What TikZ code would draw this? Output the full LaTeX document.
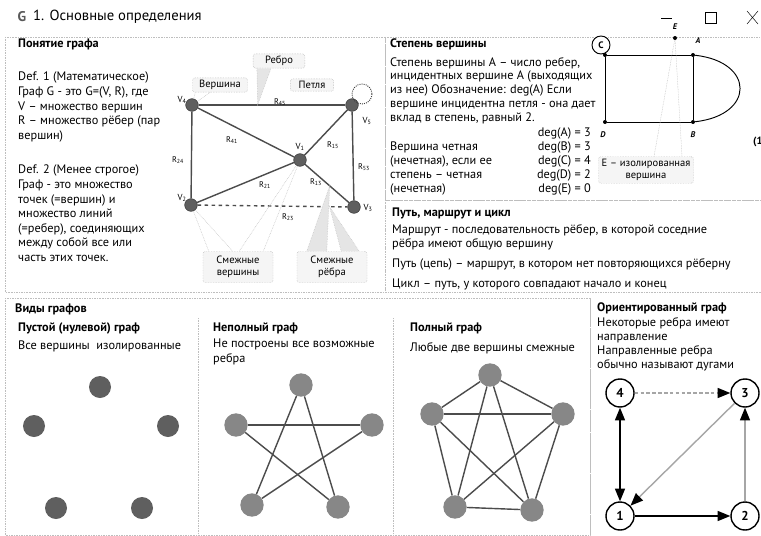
\documentclass[tikz,border=0pt]{standalone}
\usepackage{fontspec}
\setmainfont{PT Sans}
\usepackage{tikz}
\usetikzlibrary{arrows.meta, calc, positioning}
\definecolor{vtxgray}{RGB}{95,95,95}
\definecolor{vtxlight}{RGB}{135,135,135}
\definecolor{framegray}{RGB}{190,190,190}

\begin{document}
\begin{tikzpicture}[x=0.03cm, y=-0.03cm,
    txt/.style={anchor=base west, inner sep=0pt, align=left,
      font=\fontsize{10.5}{12.4}\selectfont},
    block/.style={txt, anchor=north west},
    hdr/.style={anchor=base west, inner sep=0pt,
      font=\fontsize{10.5}{12}\selectfont\bfseries},
    frame/.style={framegray, densely dotted},
    callout/.style={draw=gray!70, densely dotted, fill=gray!8, rounded corners=2pt,
      align=center, inner sep=2pt, font=\fontsize{9}{10.5}\selectfont},
    wedge/.style={fill=gray!20, draw=gray!55, densely dotted},
    vtx/.style={circle, fill=vtxgray, draw=gray!40!black, minimum size=0.38cm, inner sep=0pt},
    vlab/.style={inner sep=1pt, font=\fontsize{7.5}{8}\selectfont},
    elab/.style={inner sep=1pt, font=\fontsize{7}{8}\selectfont},
    edge/.style={very thick, gray!60!black},
    dot/.style={circle, fill=black, minimum size=0.12cm, inner sep=0pt},
    ball/.style={circle, fill=vtxgray, minimum size=0.66cm, inner sep=0pt},
    lball/.style={circle, fill=vtxlight, minimum size=0.7cm, inner sep=0pt},
    dnode/.style={circle, draw, very thick, fill=white, minimum size=0.84cm, inner sep=0pt,
      font=\fontsize{11}{12}\selectfont\bfseries},
    arc/.style={-{Triangle[length=0.38cm, width=0.3cm, color=black]}, very thick}
  ]
  \useasboundingbox[fill=white] (0,0) rectangle (761,535);

  % title bar
  \node[font=\fontsize{12}{12}\selectfont\bfseries, text=gray!70!black] (icon) at (22,17) {G};
  \node[txt, font=\fontsize{12.5}{14}\selectfont] (title) at (33,21) {1. Основные определения};
  \draw[thick] (661,18) -- (672,18);
  \draw (705,12) rectangle (716,23);
  \draw (747,11) -- (758,24) (758,11) -- (747,24);

  % frames
  \draw[frame] (5,37) rectangle (385,292);
  \draw[frame] (385,37) rectangle (761,200);
  \draw[frame] (385,200) rectangle (761,292);
  \draw[frame] (5,298) rectangle (590,535);
  \draw[frame] (590,298) -- (590,535);
  \draw[frame] (198,318) -- (198,535);
  \draw[frame] (393,318) -- (393,535);

  % Понятие графа
  \node[hdr] (hgraph) at (18,48) {Понятие графа};
  \node[block] (def1) at (18,72) {Def. 1 (Математическое)\\Граф G - это G=(V, R), где\\V – множество вершин\\R – множество рёбер (пар\\вершин)};
  \node[block] (def2) at (18,165) {Def. 2 (Менее строгое)\\Граф - это множество\\точек (=вершин) и\\множество линий\\(=ребер), соединяющих\\между собой все или\\часть этих точек.};

  \node[vtx] (v4) at (192,105) {};
  \node[vtx] (v5) at (352,105) {};
  \node[vtx] (v1) at (300,160) {};
  \node[vtx] (v2) at (191,205) {};
  \node[vtx] (v3) at (354,207) {};
  \draw[edge] (v4) -- (v5);
  \draw[edge] (v4) -- (v1);
  \draw[edge] (v1) -- (v5);
  \draw[edge] (v5) -- (v3);
  \draw[edge] (v4) -- (v2);
  \draw[edge] (v2) -- (v1);
  \draw[edge] (v1) -- (v3);
  \draw[edge, dashed] (v2) -- (v3);
  \draw[thick, gray!50!black, densely dotted] (362,94) circle (10);
  \node[vlab] (lv4) at (182,100) {V\textsubscript{4}};
  \node[vlab] (lv5) at (367,121) {V\textsubscript{5}};
  \node[vlab] (lv1) at (300,147) {V\textsubscript{1}};
  \node[vlab] (lv2) at (182,198) {V\textsubscript{2}};
  \node[vlab] (lv3) at (368,208) {V\textsubscript{3}};
  \node[elab] (r45) at (280,102) {R\textsubscript{45}};
  \node[elab] (r41) at (232,140) {R\textsubscript{41}};
  \node[elab] (r15) at (333,145) {R\textsubscript{15}};
  \node[elab] (r53) at (364,167) {R\textsubscript{53}};
  \node[elab] (r24) at (178,160) {R\textsubscript{24}};
  \node[elab] (r21) at (265,185) {R\textsubscript{21}};
  \node[elab] (r13) at (316,182) {R\textsubscript{13}};
  \node[elab] (r23) at (288,217) {R\textsubscript{23}};

  \node[callout, minimum width=1.55cm] (cedge) at (279,61) {Ребро};
  \node[callout, minimum width=1.65cm] (cvert) at (220,85) {Вершина};
  \node[callout, minimum width=1.3cm] (cloop) at (312,85) {Петля};
  \node[callout, minimum width=2.1cm, minimum height=0.93cm] (cadjv) at (238,267) {Смежные\\вершины};
  \node[callout, minimum width=2.1cm, minimum height=0.93cm] (cadje) at (332,267) {Смежные\\рёбра};
  \coordinate (pedge) at ($(v4)!0.41!(v5)$);
  \coordinate (pe13) at ($(v1)!0.55!(v3)$);
  \coordinate (pe23) at ($(v2)!0.85!(v3)$);
  \filldraw[wedge] ($(cedge.south west)+(4,0)$) -- (pedge) -- ($(cedge.south west)+(18,0)$);
  \filldraw[wedge] ($(cvert.south west)+(3,0)$) -- (v4) -- ($(cvert.south west)+(18,0)$);
  \filldraw[wedge] ($(cadjv.north west)+(6,0)$) -- (v2) -- ($(cadjv.north west)+(30,0)$);
  \filldraw[wedge] ($(cadjv.north east)+(-34,0)$) -- (v1) -- ($(cadjv.north east)+(-10,0)$);
  \filldraw[wedge] ($(cadje.north west)+(10,0)$) -- (pe13) -- ($(cadje.north west)+(30,0)$);
  \filldraw[wedge] ($(cadje.north east)+(-26,0)$) -- (pe23) -- ($(cadje.north east)+(-8,0)$);

  % Степень вершины
  \node[hdr] (hdeg) at (390,48) {Степень вершины};
  \node[block, font=\fontsize{10.5}{11.8}\selectfont] (degdef) at (390,57) {Степень вершины A – число ребер,\\инцидентных вершине A (выходящих\\из нее) Обозначение: deg(A) Если\\вершине инцидентна петля - она дает\\вклад в степень, равный 2.};
  \node[block, font=\fontsize{10.5}{11.8}\selectfont] (parity) at (390,142) {Вершина четная\\(нечетная), если ее\\степень – четная\\(нечетная)};
  \node[block, font=\fontsize{10.5}{11.8}\selectfont, anchor=north east, align=right] (deglist) at (591,128) {deg(A) = 3\\deg(B) = 3\\deg(C) = 4\\deg(D) = 2\\deg(E) = 0};

  \node[dot] (c) at (605,55) {};
  \node[dot] (a) at (693,55) {};
  \node[dot] (b) at (693,122) {};
  \node[dot] (d) at (605,122) {};
  \node[dot] (e) at (675,38) {};
  \draw[thick] (c) -- (a) -- (b) -- (d) -- (c);
  \draw[thick] (a) .. controls (755,62) and (755,115) .. (b);
  \draw[thick, fill=white] (601,45) circle (9);
  \node[font=\fontsize{8}{9}\selectfont\bfseries] (lc) at (601,45) {C};
  \node[vlab, font=\fontsize{7}{8}\selectfont\bfseries\itshape] (la) at (698,41) {A};
  \node[vlab, font=\fontsize{7}{8}\selectfont\bfseries\itshape] (le) at (675,27) {E};
  \node[vlab, font=\fontsize{7}{8}\selectfont\bfseries\itshape] (ld) at (603,135) {D};
  \node[vlab, font=\fontsize{7}{8}\selectfont\bfseries\itshape] (lb) at (693,135) {B};
  \node[txt, font=\fontsize{9}{10}\selectfont\bfseries] (cut) at (753,144) {(1};
  \node[callout, minimum width=2.85cm] (ciso) at (646,170) {E – изолированная\\вершина};
  \filldraw[wedge] ($(ciso.north)+(8,0)$) -- (e) -- ($(ciso.north)+(36,0)$);

  % Путь, маршрут и цикл
  \node[hdr] (hpath) at (392,216) {Путь, маршрут и цикл};
  \node[block] (route) at (392,224) {Маршрут - последовательность рёбер, в которой соседние\\рёбра имеют общую вершину};
  \node[txt] (chain) at (392,267) {Путь (цепь) – маршрут, в котором нет повторяющихся рёберну};
  \node[txt] (cycle) at (392,287) {Цикл – путь, у которого совпадают начало и конец};

  % Виды графов
  \node[hdr] (hkinds) at (15,312) {Виды графов};
  \node[hdr] (hempty) at (18,331) {Пустой (нулевой) граф};
  \node[txt] (tempty) at (18,349) {Все вершины\ \ изолированные};
  \node[ball] (e1) at (100,387) {};
  \node[ball] (e2) at (34,426) {};
  \node[ball] (e3) at (168,426) {};
  \node[ball] (e4) at (56,508) {};
  \node[ball] (e5) at (142,508) {};

  \node[hdr] (hpart) at (213,331) {Неполный граф};
  \node[block] (tpart) at (213,339) {Не построены все возможные\\ребра};
  \node[lball] (p1) at (301,385) {};
  \node[lball] (p2) at (236,425) {};
  \node[lball] (p3) at (372,425) {};
  \node[lball] (p4) at (252,505) {};
  \node[lball] (p5) at (338,507) {};
  \draw[edge] (p1) -- (p4);
  \draw[edge] (p1) -- (p5);
  \draw[edge] (p2) -- (p3);
  \draw[edge] (p2) -- (p5);
  \draw[edge] (p3) -- (p4);

  \node[hdr] (hfull) at (410,331) {Полный граф};
  \node[txt] (tfull) at (410,351) {Любые две вершины смежные};
  \node[lball] (f1) at (490,375) {};
  \node[lball] (f2) at (432,414) {};
  \node[lball] (f3) at (563,414) {};
  \node[lball] (f4) at (455,507) {};
  \node[lball] (f5) at (532,510) {};
  \draw[edge] (f1) -- (f2);
  \draw[edge] (f1) -- (f3);
  \draw[edge] (f1) -- (f4);
  \draw[edge] (f1) -- (f5);
  \draw[edge] (f2) -- (f3);
  \draw[edge] (f2) -- (f4);
  \draw[edge] (f2) -- (f5);
  \draw[edge] (f3) -- (f4);
  \draw[edge] (f3) -- (f5);
  \draw[edge] (f4) -- (f5);

  % Ориентированный граф
  \node[hdr] (horient) at (597,311) {Ориентированный граф};
  \node[block, font=\fontsize{10.5}{12}\selectfont] (torient) at (597,317) {Некоторые ребра имеют\\направление\\Направленные ребра\\обычно называют дугами};
  \node[dnode] (d4) at (620,393) {4};
  \node[dnode] (d3) at (745,393) {3};
  \node[dnode] (d1) at (620,516) {1};
  \node[dnode] (d2) at (745,516) {2};
  \draw[arc, gray!70, densely dashed] (d4) -- (d3);
  \draw[arc, gray!70] (d3) -- (d1);
  \draw[arc, {Triangle[length=0.38cm, width=0.3cm]}-{Triangle[length=0.38cm, width=0.3cm]}] (d1) -- (d4);
  \draw[arc] (d1) -- (d2);
  \draw[arc, gray!70] (d2) -- (d3);
\end{tikzpicture}
\end{document}
